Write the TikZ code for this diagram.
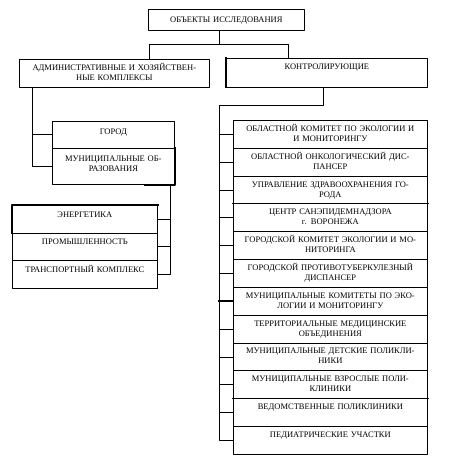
\documentclass[tikz,border=0pt]{standalone}
\usepackage{fontspec}
\setmainfont{Liberation Serif}
\tikzset{
  cell/.style={draw, anchor=north west, align=center, inner xsep=0pt, inner ysep=0pt, text height=11pt},
  thk/.style={line width=1.6pt, line cap=rect},
}
\begin{document}
\begin{tikzpicture}[x=1pt, y=-1pt, font=\fontsize{8.5}{10}\selectfont, line join=round, line width=0.7pt]
\useasboundingbox (0,0) rectangle (449,457);
% upper levels
\node[cell, text width=156pt, text height=13pt, text depth=8pt] (top) at (148,9) {ОБЪЕКТЫ ИССЛЕДОВАНИЯ};
\node[cell, text width=190pt, text depth=17pt] (adm) at (19,59) {АДМИНИСТРАТИВНЫЕ И ХОЗЯЙСТВЕН-\\НЫЕ КОМПЛЕКСЫ};
\node[cell, text width=201pt, text depth=18pt] (ctl) at (226,58) {КОНТРОЛИРУЮЩИЕ};
\coordinate (jt) at (219,44);
\coordinate (ja) at (149,44);
\coordinate (jc) at (288,44);
\draw (top.south -| jt) -- (jt);
\draw (adm.north -| ja) -- (ja) -- (jc) -- (ctl.north -| jc);
\draw[thk] (ctl.south west) -- (ctl.north west);
% left branch
\node[cell, text width=122pt, text height=13pt, text depth=14pt] (gor) at (52,121) {ГОРОД};
\node[cell, text width=122pt, text height=13pt, text depth=23pt] (mun) at (52,148) {МУНИЦИПАЛЬНЫЕ ОБ-\\РАЗОВАНИЯ};
\coordinate (lr) at (32,0);
\draw (adm.south -| lr) |- (mun.west);
\draw (gor.west) -- (gor.west -| lr);
\draw[thk] (mun.north east) -- (mun.south east) -- ([xshift=-30pt]mun.south east);
\node[cell, text width=145pt, text height=12pt, text depth=15.5pt] (ene) at (12,205) {ЭНЕРГЕТИКА};
\node[cell, text width=145pt, text height=12pt, text depth=15.5pt] (prm) at (12,232.5) {ПРОМЫШЛЕННОСТЬ};
\node[cell, text width=145pt, text height=12pt, text depth=15.5pt] (trn) at (12,260) {ТРАНСПОРТНЫЙ КОМПЛЕКС};
\draw[thk] (ene.south west) -- (ene.north west) -- (ene.north east);
\coordinate (rr) at (170,0);
\draw (mun.south -| rr) |- (trn.east);
\draw (ene.east) -- (ene.east -| rr);
\draw (prm.east) -- (prm.east -| rr);
% right branch
\foreach \t [count=\i] in {{ОБЛАСТНОЙ КОМИТЕТ ПО ЭКОЛОГИИ И\\И МОНИТОРИНГУ},
  {ОБЛАСТНОЙ ОНКОЛОГИЧЕСКИЙ ДИС-\\ПАНСЕР},
  {УПРАВЛЕНИЕ ЗДРАВООХРАНЕНИЯ ГО-\\РОДА},
  {ЦЕНТР САНЭПИДЕМНАДЗОРА\\г. ВОРОНЕЖА},
  {ГОРОДСКОЙ КОМИТЕТ ЭКОЛОГИИ И МО-\\НИТОРИНГА},
  {ГОРОДСКОЙ ПРОТИВОТУБЕРКУЛЕЗНЫЙ\\ДИСПАНСЕР},
  {МУНИЦИПАЛЬНЫЕ КОМИТЕТЫ ПО ЭКО-\\ЛОГИИ И МОНИТОРИНГУ},
  {ТЕРРИТОРИАЛЬНЫЕ МЕДИЦИНСКИЕ\\ОБЪЕДИНЕНИЯ},
  {МУНИЦИПАЛЬНЫЕ ДЕТСКИЕ ПОЛИКЛИ-\\НИКИ},
  {МУНИЦИПАЛЬНЫЕ ВЗРОСЛЫЕ ПОЛИ-\\КЛИНИКИ},
  {ВЕДОМСТВЕННЫЕ ПОЛИКЛИНИКИ},
  {ПЕДИАТРИЧЕСКИЕ УЧАСТКИ}}
  \node[cell, text width=194pt, text depth=16.83pt] (r\i) at (233,{120+(\i-1)*27.83}) {\t};
\coordinate (c1) at (323,105);
\coordinate (c2) at (219,105);
\draw (ctl.south -| c1) -- (c1) -- (c2) |- (r12.west);
\foreach \i in {1,...,11} \draw (r\i.west) -- (r\i.west -| c2);
\draw[thk] (r4.north west) -- (r4.north east);
\draw[thk] (r11.north west) -- (r11.north east);
\draw[thk] (r7.west) -- (r7.west -| c2);
\end{tikzpicture}
\end{document}
